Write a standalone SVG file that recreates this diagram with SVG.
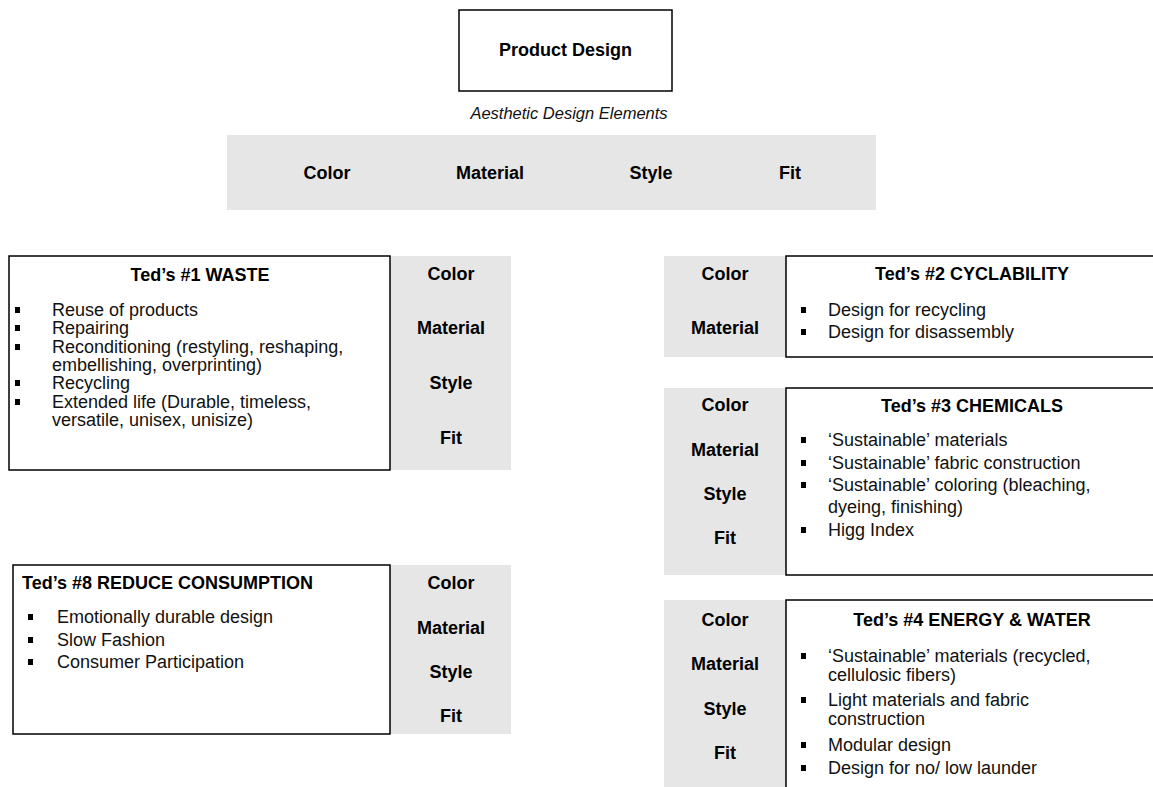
<svg xmlns="http://www.w3.org/2000/svg" width="1153" height="787" viewBox="0 0 1153 787">
<style>
text{font-family:"Liberation Sans",Arial,sans-serif;fill:#000}
.b{font-weight:bold;font-size:18px}
.t{font-size:18px;fill:#111}
.i{font-size:16.5px;font-style:italic;fill:#111}
.c{text-anchor:middle}
.box{fill:#fff;stroke:#000;stroke-width:1.5}
.gray{fill:#e6e6e6}
.bul{fill:#000}
</style>
<defs>
<rect id="sq" width="5" height="6" class="bul"/>
</defs>
<rect width="1153" height="787" fill="#fff"/>
<g id="product-design">
<rect class="box" x="459" y="10" width="213" height="81"/>
<text class="b c" x="565.5" y="56">Product Design</text>
</g>
<g id="aesthetic">
<text class="i c" x="569" y="119">Aesthetic Design Elements</text>
<rect class="gray" x="227" y="135" width="649" height="75"/>
<text class="b c" x="327" y="179">Color</text>
<text class="b c" x="490" y="179">Material</text>
<text class="b c" x="651" y="179">Style</text>
<text class="b c" x="790" y="179">Fit</text>
</g>
<g id="waste">
<rect class="gray" x="390" y="256" width="121" height="214"/>
<rect class="box" x="9" y="256" width="381" height="214"/>
<text class="b c" x="200" y="281">Ted’s #1 WASTE</text>
<use href="#sq" x="15" y="307"/><text class="t" x="52" y="316">Reuse of products</text>
<use href="#sq" x="15" y="325"/><text class="t" x="52" y="334">Repairing</text>
<use href="#sq" x="15" y="344"/><text class="t" x="52" y="353">Reconditioning (restyling, reshaping,</text>
<text class="t" x="52" y="371">embellishing, overprinting)</text>
<use href="#sq" x="15" y="380"/><text class="t" x="52" y="389">Recycling</text>
<use href="#sq" x="15" y="399"/><text class="t" x="52" y="408">Extended life (Durable, timeless,</text>
<text class="t" x="52" y="426">versatile, unisex, unisize)</text>
<text class="b c" x="451" y="280">Color</text>
<text class="b c" x="451" y="334">Material</text>
<text class="b c" x="451" y="389">Style</text>
<text class="b c" x="451" y="444">Fit</text>
</g>
<g id="cyclability">
<rect class="gray" x="664" y="256" width="122" height="101"/>
<rect class="box" x="786" y="256" width="380" height="101"/>
<text class="b c" x="972" y="280">Ted’s #2 CYCLABILITY</text>
<use href="#sq" x="801" y="307"/><text class="t" x="828" y="316">Design for recycling</text>
<use href="#sq" x="801" y="329"/><text class="t" x="828" y="338">Design for disassembly</text>
<text class="b c" x="725" y="280">Color</text>
<text class="b c" x="725" y="334">Material</text>
</g>
<g id="chemicals">
<rect class="gray" x="664" y="388" width="122" height="187"/>
<rect class="box" x="786" y="388" width="380" height="187"/>
<text class="b c" x="972" y="412">Ted’s #3 CHEMICALS</text>
<use href="#sq" x="801" y="437"/><text class="t" x="828" y="446">‘Sustainable’ materials</text>
<use href="#sq" x="801" y="460"/><text class="t" x="828" y="469">‘Sustainable’ fabric construction</text>
<use href="#sq" x="801" y="482"/><text class="t" x="828" y="491">‘Sustainable’ coloring (bleaching,</text>
<text class="t" x="828" y="513">dyeing, finishing)</text>
<use href="#sq" x="801" y="527"/><text class="t" x="828" y="536">Higg Index</text>
<text class="b c" x="725" y="411">Color</text>
<text class="b c" x="725" y="456">Material</text>
<text class="b c" x="725" y="500">Style</text>
<text class="b c" x="725" y="544">Fit</text>
</g>
<g id="energy-water">
<rect class="gray" x="664" y="600" width="122" height="190"/>
<rect class="box" x="786" y="600" width="380" height="200"/>
<text class="b c" x="972" y="626">Ted’s #4 ENERGY &amp; WATER</text>
<use href="#sq" x="801" y="653"/><text class="t" x="828" y="662">‘Sustainable’ materials (recycled,</text>
<text class="t" x="828" y="681">cellulosic fibers)</text>
<use href="#sq" x="801" y="697"/><text class="t" x="828" y="706">Light materials and fabric</text>
<text class="t" x="828" y="725">construction</text>
<use href="#sq" x="801" y="742"/><text class="t" x="828" y="751">Modular design</text>
<use href="#sq" x="801" y="765"/><text class="t" x="828" y="774">Design for no/ low launder</text>
<text class="b c" x="725" y="626">Color</text>
<text class="b c" x="725" y="670">Material</text>
<text class="b c" x="725" y="715">Style</text>
<text class="b c" x="725" y="759">Fit</text>
</g>
<g id="reduce-consumption">
<rect class="gray" x="390" y="565" width="121" height="169"/>
<rect class="box" x="13" y="565" width="377" height="169"/>
<text class="b" x="22" y="589">Ted’s #8 REDUCE CONSUMPTION</text>
<use href="#sq" x="28" y="614"/><text class="t" x="57" y="623">Emotionally durable design</text>
<use href="#sq" x="28" y="637"/><text class="t" x="57" y="646">Slow Fashion</text>
<use href="#sq" x="28" y="659"/><text class="t" x="57" y="668">Consumer Participation</text>
<text class="b c" x="451" y="589">Color</text>
<text class="b c" x="451" y="634">Material</text>
<text class="b c" x="451" y="678">Style</text>
<text class="b c" x="451" y="722">Fit</text>
</g>
<g id="connectors"></g>
</svg>
